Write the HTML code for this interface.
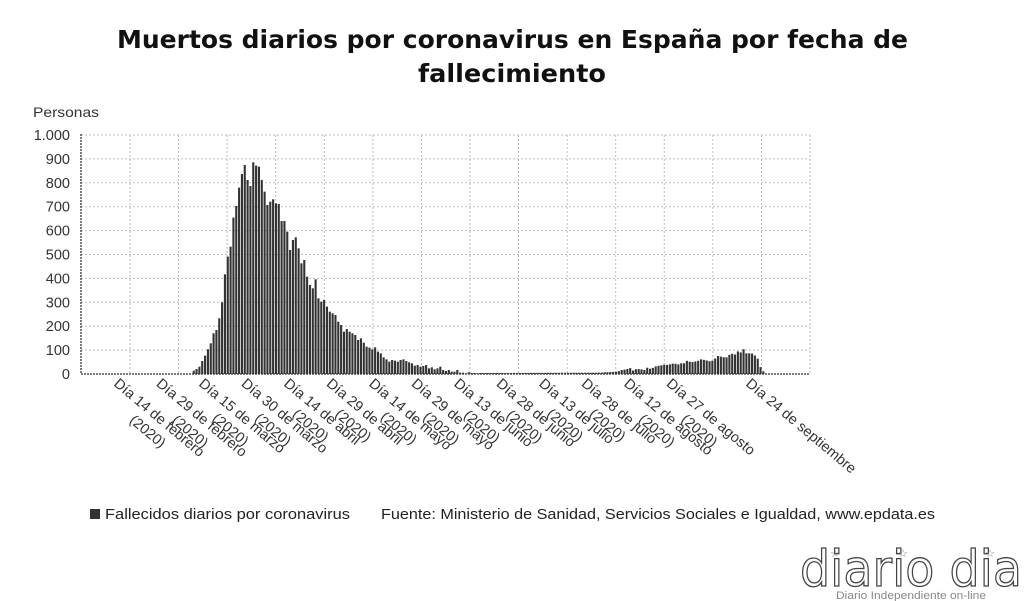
<!DOCTYPE html>
<html><head><meta charset="utf-8">
<style>
html,body{margin:0;padding:0;background:#fff;width:1024px;height:601px;overflow:hidden}
svg{display:block;font-family:"Liberation Sans",sans-serif}
</style></head>
<body>
<svg id="c" width="1024" height="601" viewBox="0 0 1024 601" xmlns="http://www.w3.org/2000/svg">
<text x="117" y="48" font-size="25" font-weight="bold" fill="#111" font-family="'DejaVu Sans',sans-serif" textLength="791" lengthAdjust="spacingAndGlyphs">Muertos diarios por coronavirus en España por fecha de</text>
<text x="418" y="82" font-size="25" font-weight="bold" fill="#111" font-family="'DejaVu Sans',sans-serif" textLength="188" lengthAdjust="spacingAndGlyphs">fallecimiento</text>
<text x="33" y="117" font-size="14" fill="#333" textLength="66" lengthAdjust="spacingAndGlyphs">Personas</text>
<g id="grid"></g>
<g id="bars" fill="#333"></g>
<g id="ylab" font-size="14.5" fill="#333" text-anchor="end"></g>
<g id="xlab" font-size="14.5" fill="#333"></g>
<rect x="90" y="509" width="10" height="10" fill="#333"/>
<text x="105" y="519" font-size="14.5" fill="#222" textLength="245" lengthAdjust="spacingAndGlyphs">Fallecidos diarios por coronavirus</text>
<text x="381" y="519" font-size="14.5" fill="#222" textLength="554" lengthAdjust="spacingAndGlyphs">Fuente: Ministerio de Sanidad, Servicios Sociales e Igualdad, www.epdata.es</text>
<text x="800" y="586" font-size="50" fill="#fff" stroke="#444" stroke-width="1.3" font-family="'DejaVu Sans',sans-serif" textLength="222" lengthAdjust="spacingAndGlyphs">diario dia</text>
<text x="830" y="557" font-size="11" fill="#888">☆</text>
<text x="898" y="557" font-size="11" fill="#888">☆</text>
<text x="985" y="557" font-size="11" fill="#888">☆</text>
<text x="836" y="599" font-size="11" fill="#888" textLength="150" lengthAdjust="spacingAndGlyphs">Diario Independiente on-line</text>
</svg>
<script>
var NS="http://www.w3.org/2000/svg";
function el(t,a,p,txt){var e=document.createElementNS(NS,t);for(var k in a)e.setAttribute(k,a[k]);if(txt!==undefined)e.textContent=txt;p.appendChild(e);return e;}
var g=document.getElementById('grid'),b=document.getElementById('bars'),yl=document.getElementById('ylab'),xl=document.getElementById('xlab');
var y0=374,k=0.239;
for(var v=100;v<=1000;v+=100){var y=y0-v*k;el('line',{x1:81,x2:810,y1:y,y2:y,stroke:'#bbb','stroke-width':1,'stroke-dasharray':'2,2'},g);}
for(var i=0;i<15;i++){var x=130+48.57*i;el('line',{x1:x,x2:x,y1:135,y2:374,stroke:'#bbb','stroke-width':1,'stroke-dasharray':'2,2'},g);}
el('line',{x1:81,x2:810,y1:374,y2:374,stroke:'#333','stroke-width':1.3,'stroke-dasharray':'2,1'},g);
el('line',{x1:81,x2:81,y1:134,y2:374,stroke:'#333','stroke-width':1.3,'stroke-dasharray':'2,1'},g);
var labs=['1.000','900','800','700','600','500','400','300','200','100','0'];
for(var i=0;i<=10;i++){var v=1000-100*i;el('text',{x:70,y:y0-v*k+5},yl,labs[i]);}
var z1=[[38,662],[46,657],[55,650],[63,633],[72,617],[80,598],[89,580],[97,550],[106,540],[114,505],[123,457],[131,373],[140,320],[148,290],[157,203],[165,168],[174,113],[182,72],[191,45],[199,90],[208,108],[216,37],[224,47],[233,50],[241,90],[250,125],[258,165],[267,155],[275,148],[284,160],[292,162],[301,213],[309,213],[318,245],[326,300],[335,270],[343,262],[352,295],[360,340],[369,330],[377,380],[386,405],[394,415],[403,388],[411,445],[420,455],[428,450],[437,470],[445,485],[454,490],[462,495],[471,515],[480,525],[488,545],[497,537],[505,545],[514,550],[522,555],[531,570],[539,565],[548,578],[556,590],[565,593],[573,598],[582,592],[590,605],[599,610],[607,622],[616,628],[624,635],[633,630],[641,632],[650,635],[658,630],[667,628],[675,633],[684,637],[692,640],[701,647],[709,645],[718,650],[726,648],[735,645],[743,655],[752,652],[760,658],[769,655],[777,650],[786,660],[794,663],[803,660],[811,665],[820,665],[828,660],[837,668],[845,668],[854,670],[862,667],[871,669],[880,669],[888,670]];
var vals=[];
for(var i=0;i<z1.length;i++){vals.push((672-z1[i][1])*1.395);}
var sp=2.834, x=192.7;
for(var i=0;i<vals.length;i++){var h=vals[i]*k;el('rect',{x:(x+i*sp).toFixed(2),y:(y0-h).toFixed(2),width:2.1,height:h.toFixed(2)},b);}
var xs=x+vals.length*sp;
var z2=[[390,128],[400,127],[420,126],[440,125],[457,118],[465,120],[475,112],[485,122],[492,118],[500,117],[510,118],[520,120],[530,112],[540,118],[550,110],[560,108],[570,106],[580,104],[590,105],[600,102],[610,100],[620,104],[630,100],[640,100],[648,92],[660,97],[670,95],[680,93],[690,88],[700,90],[710,92],[720,95],[730,88],[740,78],[750,80],[760,82],[770,82],[778,70],[786,72],[794,74],[802,62],[810,68],[818,57],[826,70],[834,70],[842,70],[850,75],[860,86],[866,108],[875,120],[880,130]];
var pts=z2.map(function(p){return [470+p[0]/3,(132-p[1])*1.395];});
function f(xx){
 if(xx<pts[0][0]){var t=(xx-xs)/(pts[0][0]-xs);return 4*(1-t)+pts[0][1]*t;}
 for(var j=0;j<pts.length-1;j++){if(xx<=pts[j+1][0]){var t=(xx-pts[j][0])/(pts[j+1][0]-pts[j][0]);return pts[j][1]*(1-t)+pts[j+1][1]*t;}}
 return 0;}
for(var xx=xs;xx<=764;xx+=sp){var v=Math.max(1.5,f(xx));var h=v*k;el('rect',{x:xx.toFixed(2),y:(y0-h).toFixed(2),width:2.1,height:h.toFixed(2)},b);}
var L=[['Día 14 de febrero','(2020)'],['Día 29 de febrero','(2020)'],['Día 15 de marzo','(2020)'],['Día 30 de marzo','(2020)'],['Día 14 de abril','(2020)'],['Día 29 de abril','(2020)'],['Día 14 de mayo','(2020)'],['Día 29 de mayo','(2020)'],['Día 13 de junio','(2020)'],['Día 28 de junio','(2020)'],['Día 13 de julio','(2020)'],['Día 28 de julio','(2020)'],['Día 12 de agosto','(2020)'],['Día 27 de agosto','(2020)'],['Día 24 de septiembre']];
var days=[0,15,30,45,60,75,90,105,120,135,150,165,180,195,223];
for(var i=0;i<L.length;i++){
 var tx=113+days[i]*2.834, ty=385;
 var t=el('text',{transform:'translate('+tx.toFixed(1)+','+ty+') rotate(40)'},xl);
 el('tspan',{x:0,y:0},t,L[i][0]);
 if(L[i][1]){el('tspan',{x:0,y:18,'text-anchor':'middle'},t,'');}
}
var texts=xl.querySelectorAll('text');
for(var i=0;i<texts.length;i++){
 if(!L[i][1])continue;
 var first=texts[i].firstChild;var w=first.getComputedTextLength();
 var s=texts[i].childNodes[1];s.setAttribute('x',(w/2).toFixed(1));s.textContent=L[i][1];
}
</script>
</body></html>
